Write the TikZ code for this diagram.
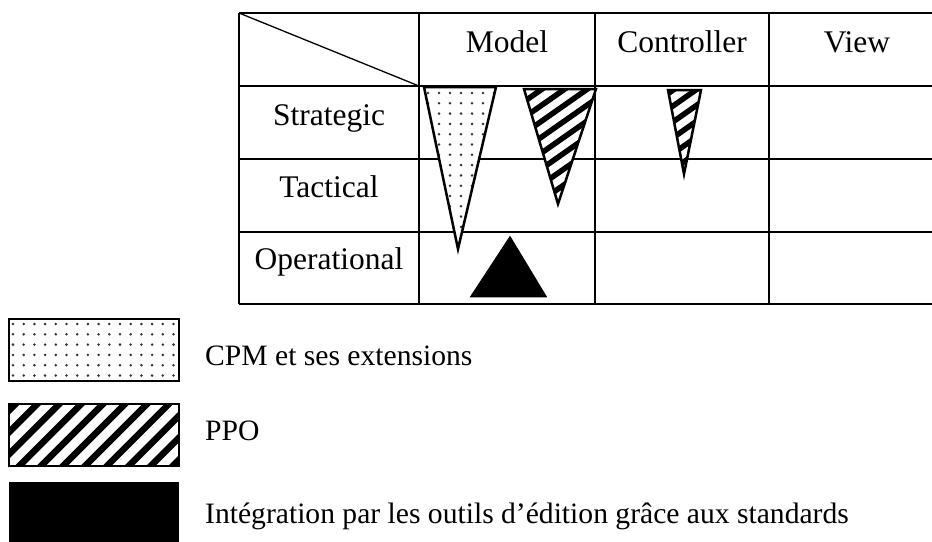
\documentclass[tikz,border=0pt]{standalone}
\usepackage{fontspec}
\setmainfont{Liberation Serif}
\tikzset{
  gridline/.style={line width=2.8pt},
  diagline/.style={line width=1.3pt},
  tri/.style={line width=2.5pt, line join=miter},
  hdr/.style={font=\fontsize{31.5}{36}\selectfont, anchor=base, inner sep=0pt},
  leg/.style={font=\fontsize{29.6}{34}\selectfont, anchor=base west, inner sep=0pt},
  legbox/.style={line width=2.6pt},
  dotmark/.style={fill=black!80},
}
% hatch: cx, cy, angle, period, count, stripe width
\newcommand\myhatch[6]{%
  \foreach \k in {-#5,...,#5}{%
    \pgfmathsetmacro\ox{#1+\k*#4*sin(#3)}%
    \pgfmathsetmacro\oy{#2+\k*#4*cos(#3)}%
    \draw[line width=#6] ({\ox-200*cos(#3)},{\oy+200*sin(#3)}) -- ({\ox+200*cos(#3)},{\oy-200*sin(#3)});
  }%
}
\begin{document}
\begin{tikzpicture}[x=1pt,y=-1pt]
\useasboundingbox (0,0) rectangle (932,541);
\clip (0,0) rectangle (932,541);
\fill[white] (0,0) rectangle (932,541);
% table geometry
\coordinate (tl) at (239,13);
\coordinate (hc) at (419,86);
\foreach \yy in {13,86,159,232,304} \draw[gridline] (239,\yy) -- (950,\yy);
\foreach \xx in {239,419,595,769} \draw[gridline] (\xx,13) -- (\xx,304);
\draw[diagline] (tl) -- (hc);
% headers
\node[hdr] (model) at (507,52) {Model};
\node[hdr] (controller) at (682,52) {Controller};
\node[hdr] (view) at (857,52) {View};
\node[hdr] (strategic) at (329,125) {Strategic};
\node[hdr] (tactical) at (329,197) {Tactical};
\node[hdr] (operational) at (329,269) {Operational};
% dotted triangle (CPM)
\fill[white] (424,87) -- (496,87) -- (458,249) -- cycle;
\begin{scope}
  \clip (424,87) -- (496,87) -- (458,249) -- cycle;
  \foreach \xx in {428,439,...,500} \foreach \yy in {93,103.3,...,250} \fill[dotmark] (\xx,\yy) circle (1.4);
\end{scope}
\draw[tri] (424,87) -- (496,87) -- (458,249) -- cycle;
% hatched triangle Model
\fill[white] (524,89) -- (596,89) -- (558,204) -- cycle;
\begin{scope}
  \clip (524,89) -- (596,89) -- (558,204) -- cycle;
  \myhatch{560}{140}{35}{13}{10}{5.5pt}
\end{scope}
\draw[tri] (524,89) -- (596,89) -- (558,204) -- cycle;
% hatched triangle Controller
\fill[white] (668,90) -- (701,90) -- (684,174) -- cycle;
\begin{scope}
  \clip (668,90) -- (701,90) -- (684,174) -- cycle;
  \myhatch{684}{130}{35}{13}{8}{5.5pt}
\end{scope}
\draw[tri] (668,90) -- (701,90) -- (684,174) -- cycle;
% black triangle
\fill[black] (510,238) -- (545,296) -- (472,296) -- cycle;
\draw[tri] (510,238) -- (545,296) -- (472,296) -- cycle;
% legend boxes
\begin{scope}
  \clip (9,319) rectangle (179,381);
  \foreach \xx in {13,23.7,...,180} \foreach \yy in {324,334.3,...,382} \fill[dotmark] (\xx,\yy) circle (1.4);
\end{scope}
\draw[legbox] (9,319) rectangle (179,381);
\begin{scope}
  \clip (9,404) rectangle (179,466);
  \myhatch{94}{435}{45}{15.5}{12}{6.5pt}
\end{scope}
\draw[legbox] (9,404) rectangle (179,466);
\fill[black] (9,482) rectangle (179,545);
% legend texts
\node[leg] (l1) at (205,365) {CPM et ses extensions};
\node[leg] (l2) at (205,440) {PPO};
\node[leg] (l3) at (205,523) {Intégration par les outils d’édition grâce aux standards};
\end{tikzpicture}
\end{document}
